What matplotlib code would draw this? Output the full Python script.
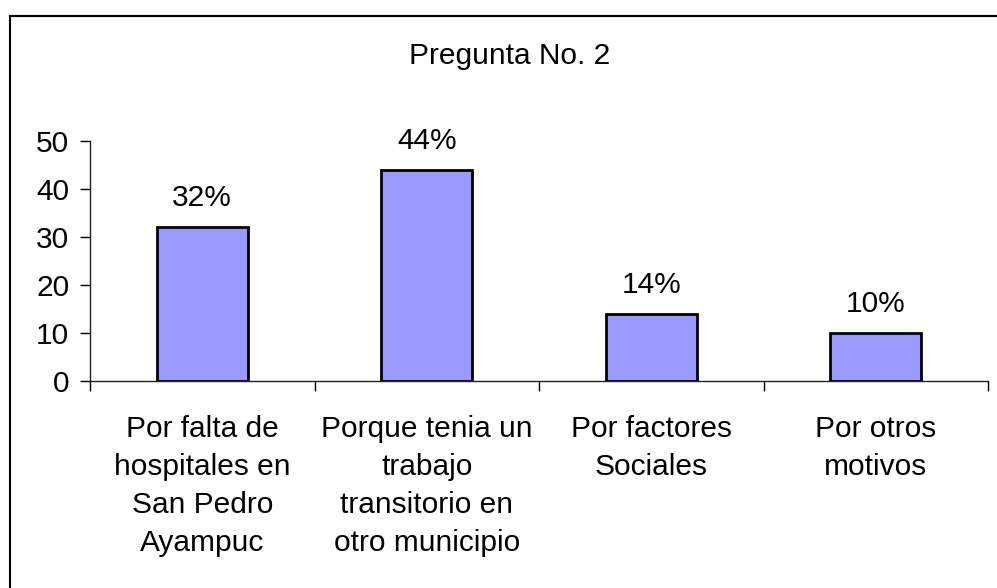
import matplotlib.pyplot as plt
from matplotlib.lines import Line2D
import numpy as np

categorias = ['Por falta de\nhospitales en\nSan Pedro\nAyampuc',
              'Porque tenia un\ntrabajo\ntransitorio en\notro municipio',
              'Por factores\nSociales',
              'Por otros\nmotivos']
valores = [32, 44, 14, 10]
etiquetas = ['32%', '44%', '14%', '10%']
yticks = [0, 10, 20, 30, 40, 50]

plt.rcParams['font.family'] = ['Liberation Sans', 'DejaVu Sans']
fs = 21.5

fig = plt.figure(figsize=(9.97, 5.88), dpi=100)
ax = fig.add_axes([0.0903, 0.352, 0.9007, 0.408])

x = np.arange(len(valores))
bars = ax.bar(x, valores, width=0.405, color='#9999FF', edgecolor='black', linewidth=2)

for b, txt in zip(bars, etiquetas):
    ax.annotate(txt, (b.get_x() + b.get_width() / 2, b.get_height()),
                xytext=(0, 11), textcoords='offset points',
                ha='center', va='bottom', fontsize=fs)

ax.set_xlim(-0.5, len(valores) - 0.5)
ax.set_ylim(0, 50)
ax.set_yticks(yticks)
ax.tick_params(axis='y', labelsize=fs, length=7, width=1, direction='out', pad=8)

ax.set_xticks(x)
ax.set_xticklabels(categorias, fontsize=fs, linespacing=1.45, va='top')
ax.tick_params(axis='x', which='major', length=0, pad=24.5)
ax.set_xticks(np.arange(len(valores) + 1) - 0.5, minor=True)
ax.tick_params(axis='x', which='minor', length=7, width=1, direction='out')

for s in ['top', 'right']:
    ax.spines[s].set_visible(False)
for s in ['left', 'bottom']:
    ax.spines[s].set_linewidth(1)
    ax.spines[s].set_color('#202020')

fig.text(510 / 997, 1 - 56 / 588, 'Pregunta No. 2', ha='center', va='center', fontsize=fs)

# chart frame: only the left and top edges are inside the picture
x0, y0 = 9.5 / 997, 1 - 15.5 / 588
fig.lines.append(Line2D([x0, x0], [0, y0], transform=fig.transFigure, color='black', linewidth=1.5))
fig.lines.append(Line2D([x0, 1], [y0, y0], transform=fig.transFigure, color='black', linewidth=1.5))

fig.savefig('out.png', dpi=100)
